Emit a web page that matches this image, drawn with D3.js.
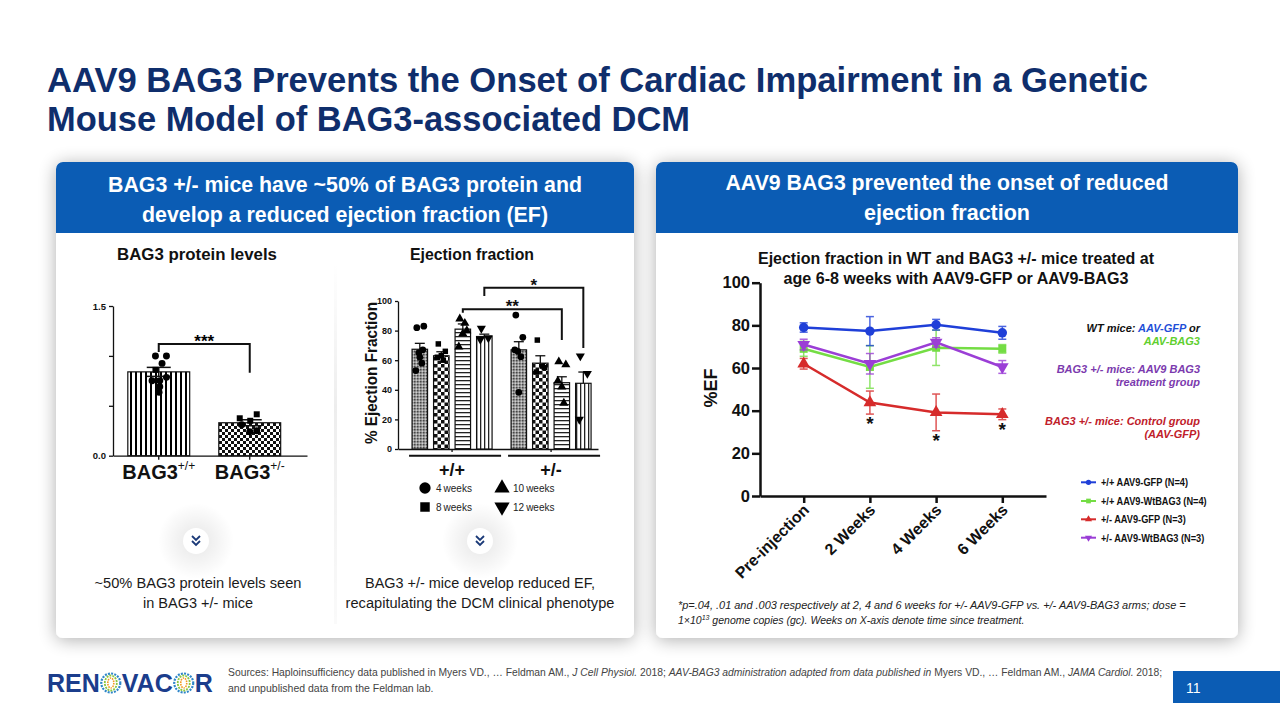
<!DOCTYPE html>
<html><head><meta charset="utf-8">
<script src="https://cdn.jsdelivr.net/npm/d3@7"></script>
<style>
html,body{margin:0;padding:0;background:#fff;}
svg{display:block;font-family:"Liberation Sans",Arial,Helvetica,sans-serif;}
</style></head><body>
<svg id="c" width="1280" height="720"></svg>
<script>
// ---------------- DATA ----------------
const proteinGroups = ["BAG3+/+", "BAG3+/-"];
const proteinMean = [0.84, 0.33];
const proteinSEM = [0.045, 0.03];
const proteinTicks = [0, 0.5, 1.0, 1.5];
const proteinPointsWT = [1.00, 1.00, 0.925, 0.86, 0.75, 0.75, 0.785, 0.69, 0.635];
const proteinShapesWT = ["c","c","c","s","c","c","c","c","c"];
const proteinPointsHet = [0.375, 0.415, 0.35, 0.31, 0.24, 0.25];
const proteinShapesHet = ["s","s","s","c","c","c"];
const proteinBracket = [1.12, 1.04, 0.83]; // bracket level, left end, right end
const proteinSig = "***";

const efGenotypes = ["+/+", "+/-"];
const efAges = ["4 weeks", "8 weeks", "10 weeks", "12 weeks"];
const efMeanWT = [67.4, 63, 81, 76];
const efMeanHet = [67, 58, 44.8, 44.4];
const efSEMWT = [4, 2.7, 3.5, 1.6];
const efSEMHet = [5.5, 5, 4, 7.6];
const efPointsWT = [[82, 83, 53, 58, 62, 65, 67], [71, 66, 62, 60, 63], [88, 80, 69, 85, 78], [81.5, 75, 74]];
const efPointsHet = [[90.5, 75.5, 67, 62.4, 38.3, 66], [73.6, 55, 52, 56], [59, 57, 46, 31, 42], [62.8, 51, 20]];
const efTicks = [0, 20, 40, 60, 80, 100];
const efBrackets = [
  {from: ["+/+", "10 weeks"], to: ["+/-", "10 weeks"], level: 94.4, left: 92, right: 73.6, label: "**"},
  {from: ["+/+", "12 weeks"], to: ["+/-", "12 weeks"], level: 109, left: 103.4, right: 68.2, label: "*"}
];

const timepoints = ["Pre-injection", "2 Weeks", "4 Weeks", "6 Weeks"];
const wtGFP = [79, 77.3, 80.3, 76.5];
const wtGFPErr = [2.2, 6.8, 2.5, 3];
const wtBAG3 = [69, 60.5, 69.5, 69];
const wtBAG3Err = [3.5, 10, 8.3, 2];
const hetGFP = [62, 43.8, 39.2, 38.3];
const hetGFPErr = [2.5, 5.4, 8.6, 2.5];
const hetBAG3 = [71, 62, 72, 60.5];
const hetBAG3Err = [2.5, 4.8, 2.2, 3];
const seriesNames = ["+/+ AAV9-GFP (N=4)", "+/+ AAV9-WtBAG3 (N=4)", "+/- AAV9-GFP (N=3)", "+/- AAV9-WtBAG3 (N=3)"];
const efTicksRight = [0, 20, 40, 60, 80, 100];
const sigTimepoints = ["2 Weeks", "4 Weeks", "6 Weeks"];

// ---------------- HELPERS ----------------
const svg = d3.select("#c");
const defs = svg.append("defs");
function fit(sel, w) {
  sel.each(function () {
    const l = this.getComputedTextLength();
    const fs = parseFloat(getComputedStyle(this).fontSize);
    if (l > 0) this.setAttribute("font-size", (fs * w / l).toFixed(2));
  });
}
function squeeze(sel, k) {
  sel.each(function () {
    const l = this.getComputedTextLength();
    this.setAttribute("textLength", (l * k).toFixed(1));
    this.setAttribute("lengthAdjust", "spacingAndGlyphs");
  });
}
function toWidth(sel, w) {
  sel.attr("textLength", w).attr("lengthAdjust", "spacingAndGlyphs");
}
const sym = {
  c: d3.symbol().type(d3.symbolCircle),
  s: d3.symbol().type(d3.symbolSquare),
  t: d3.symbol().type(d3.symbolTriangle),
  v: d3.symbol().type(d3.symbolTriangle)
};

// filters
const sh = defs.append("filter").attr("id", "shadow").attr("x", "-10%").attr("y", "-10%").attr("width", "120%").attr("height", "125%");
sh.append("feGaussianBlur").attr("in", "SourceAlpha").attr("stdDeviation", 9);
sh.append("feOffset").attr("dy", 2);
sh.append("feComponentTransfer").append("feFuncA").attr("type", "linear").attr("slope", 0.32);
const mg = sh.append("feMerge"); mg.append("feMergeNode"); mg.append("feMergeNode").attr("in", "SourceGraphic");

const glow = defs.append("radialGradient").attr("id", "glow");
glow.append("stop").attr("offset", "0%").attr("stop-color", "#000").attr("stop-opacity", 0.10);
glow.append("stop").attr("offset", "100%").attr("stop-color", "#000").attr("stop-opacity", 0);

const vshade = defs.append("linearGradient").attr("id", "vshade").attr("x1", 0).attr("x2", 0).attr("y1", 0).attr("y2", 1);
vshade.append("stop").attr("offset", "0%").attr("stop-color", "#000").attr("stop-opacity", 0);
vshade.append("stop").attr("offset", "40%").attr("stop-color", "#000").attr("stop-opacity", 0.07);
vshade.append("stop").attr("offset", "100%").attr("stop-color", "#000").attr("stop-opacity", 0.02);

// patterns
function pat(id, w, h, bg, draw) {
  const p = defs.append("pattern").attr("id", id).attr("patternUnits", "userSpaceOnUse").attr("width", w).attr("height", h);
  p.append("rect").attr("width", w).attr("height", h).attr("fill", bg);
  draw(p);
}
pat("vstripe", 5, 5, "#fff", p => p.append("rect").attr("width", 2).attr("height", 5).attr("fill", "#000"));
pat("vthin", 4, 4, "#fff", p => p.append("rect").attr("width", 1.3).attr("height", 4).attr("fill", "#222"));
pat("hstripe", 4, 4, "#fff", p => p.append("rect").attr("width", 4).attr("height", 1.3).attr("fill", "#222"));
pat("checker3", 6, 6, "#fff", p => {
  p.append("rect").attr("width", 3).attr("height", 3).attr("fill", "#111");
  p.append("rect").attr("x", 3).attr("y", 3).attr("width", 3).attr("height", 3).attr("fill", "#111");
});
pat("checker4", 7, 7, "#fff", p => {
  p.append("rect").attr("width", 3.5).attr("height", 3.5).attr("fill", "#111");
  p.append("rect").attr("x", 3.5).attr("y", 3.5).attr("width", 3.5).attr("height", 3.5).attr("fill", "#111");
});
pat("stipple", 3, 3, "#9a9a9a", p => {
  p.append("circle").attr("cx", 0.8).attr("cy", 0.8).attr("r", 0.8).attr("fill", "#333");
  p.append("circle").attr("cx", 2.3).attr("cy", 2.2).attr("r", 0.6).attr("fill", "#eee");
});

// ---------------- SLIDE ----------------
svg.append("rect").attr("width", 1280).attr("height", 720).attr("fill", "#fff");

const title = svg.append("g").attr("font-weight", "bold").attr("fill", "#0f2e6c").attr("font-size", 35);
title.append("text").attr("x", 47).attr("y", 92).text("AAV9 BAG3 Prevents the Onset of Cardiac Impairment in a Genetic").call(toWidth, 1101);
title.append("text").attr("x", 47).attr("y", 131).text("Mouse Model of BAG3-associated DCM").call(toWidth, 643);

const panels = [
  {x: 56, y: 162, w: 578, h: 476, hh: 71, l1: "BAG3 +/- mice have ~50% of BAG3 protein and", l2: "develop a reduced ejection fraction (EF)", w1: 474, w2: 406, b1: 192, b2: 222},
  {x: 656, y: 162, w: 582, h: 476, hh: 71, l1: "AAV9 BAG3 prevented the onset of reduced", l2: "ejection fraction", w1: 443, w2: 166, b1: 190, b2: 220}
];
panels.forEach(p => {
  svg.append("rect").attr("x", p.x).attr("y", p.y).attr("width", p.w).attr("height", p.h).attr("rx", 7).attr("fill", "#fff").attr("filter", "url(#shadow)");
  const r = 7;
  svg.append("path").attr("d", `M${p.x},${p.y + r} a${r},${r} 0 0 1 ${r},${-r} h${p.w - 2 * r} a${r},${r} 0 0 1 ${r},${r} v${p.hh - r} h${-p.w} z`).attr("fill", "#0b5cb4");
  const cx = p.x + p.w / 2;
  const t = svg.append("g").attr("fill", "#fff").attr("font-weight", "bold").attr("font-size", 21.5).attr("text-anchor", "middle");
  t.append("text").attr("x", cx).attr("y", p.b1).text(p.l1).call(toWidth, p.w1);
  t.append("text").attr("x", cx).attr("y", p.b2).text(p.l2).call(toWidth, p.w2);
});

// soft divider in left panel
svg.append("rect").attr("x", 334).attr("y", 262).attr("width", 3).attr("height", 362).attr("fill", "url(#vshade)");

// subtitles
svg.append("text").attr("x", 197).attr("y", 260).attr("text-anchor", "middle").attr("font-weight", "bold").attr("font-size", 15).attr("fill", "#111").text("BAG3 protein levels").call(fit, 160);
svg.append("text").attr("x", 472).attr("y", 260).attr("text-anchor", "middle").attr("font-weight", "bold").attr("font-size", 15).attr("fill", "#111").text("Ejection fraction").call(fit, 124);

// ---------------- CHART 1: BAG3 protein ----------------
const g1 = svg.append("g");
const y1 = d3.scaleLinear().domain([0, 1.5]).range([455.7, 306]);
const x1 = d3.scaleBand().domain(proteinGroups).range([113, 307]).paddingInner(0.32).paddingOuter(0.226).align(0.36);
const ax1 = g1.append("g").attr("transform", "translate(113,0)")
  .call(d3.axisLeft(y1).tickValues(proteinTicks).tickSize(4).tickSizeOuter(0)
    .tickFormat(d => (d === 0 || d === 1.5) ? d3.format(".1f")(d) : ""));
ax1.selectAll("path,line").attr("stroke", "#111").attr("stroke-width", 1.3);
ax1.selectAll("text").attr("font-size", 9.5).attr("font-weight", "bold").attr("fill", "#111").attr("font-family", "Liberation Sans");
const bx1 = g1.append("g").attr("transform", "translate(0,455.7)")
  .call(d3.axisBottom(x1).tickSize(4).tickSizeOuter(0).tickFormat(""));
bx1.selectAll("path,line").attr("stroke", "#111").attr("stroke-width", 1.3);
bx1.selectAll(".tick").attr("transform", d => `translate(${x1(d) + x1.bandwidth() / 2},0)`);

const pfill = ["url(#vstripe)", "url(#checker3)"];
g1.selectAll(".bar").data(proteinGroups).join("rect")
  .attr("x", d => x1(d)).attr("width", x1.bandwidth())
  .attr("y", (d, i) => y1(proteinMean[i])).attr("height", (d, i) => y1(0) - y1(proteinMean[i]))
  .attr("fill", (d, i) => pfill[i]).attr("stroke", "#111").attr("stroke-width", 1.2);
proteinGroups.forEach((d, i) => {
  const cx = x1(d) + x1.bandwidth() / 2;
  const e = g1.append("g").attr("stroke", "#111").attr("stroke-width", 1.5);
  e.append("line").attr("x1", cx).attr("x2", cx).attr("y1", y1(proteinMean[i] - proteinSEM[i])).attr("y2", y1(proteinMean[i] + proteinSEM[i]));
  e.append("line").attr("x1", cx - 12).attr("x2", cx + 12).attr("y1", y1(proteinMean[i] + proteinSEM[i])).attr("y2", y1(proteinMean[i] + proteinSEM[i]));
  e.append("line").attr("x1", cx - 12).attr("x2", cx + 12).attr("y1", y1(proteinMean[i] - proteinSEM[i])).attr("y2", y1(proteinMean[i] - proteinSEM[i]));
});
const jit1 = [-3.3, 7.7, 3.3, -3.3, -6.7, 1, 7.7, 1, 0.3];
const jit2 = [-10, 7, 0.5, -8, 0, 7];
[[proteinPointsWT, proteinShapesWT, jit1], [proteinPointsHet, proteinShapesHet, jit2]].forEach(([pts, shp, jit], gi) => {
  const cx = x1(proteinGroups[gi]) + x1.bandwidth() / 2;
  g1.append("g").selectAll("path").data(pts).join("path")
    .attr("d", (v, i) => sym[shp[i]].size(shp[i] === "s" ? 36 : 38)())
    .attr("transform", (v, i) => `translate(${cx + jit[i]},${y1(v)})`)
    .attr("fill", "#000");
});
{
  const xa = x1(proteinGroups[0]) + x1.bandwidth() / 2, xb = x1(proteinGroups[1]) + x1.bandwidth() / 2;
  g1.append("path").attr("d", `M${xa},${y1(proteinBracket[1])} V${y1(proteinBracket[0])} H${xb} V${y1(proteinBracket[2])}`)
    .attr("fill", "none").attr("stroke", "#111").attr("stroke-width", 2);
  g1.append("text").attr("x", (xa + xb) / 2).attr("y", y1(proteinBracket[0]) + 3).attr("text-anchor", "middle")
    .attr("font-weight", "bold").attr("font-size", 17).text(proteinSig);
}
const lab1 = g1.selectAll(".xl").data(proteinGroups).join("text")
  .attr("x", d => x1(d) + x1.bandwidth() / 2).attr("y", 479).attr("text-anchor", "middle")
  .attr("font-weight", "bold").attr("font-size", 20).attr("fill", "#111");
lab1.append("tspan").text("BAG3");
lab1.append("tspan").attr("dy", -9).attr("font-size", 12).attr("font-weight", "normal").text(d => d.slice(4));

// ---------------- CHART 2: Ejection fraction ----------------
const g2 = svg.append("g");
const y2 = d3.scaleLinear().domain([0, 100]).range([449, 301]);
const x2 = d3.scaleBand().domain(efGenotypes).range([398, 598]).paddingInner(0.192).paddingOuter(0.106).align(0.67);
const x2i = d3.scaleBand().domain(efAges).range([0, x2.bandwidth()]).paddingInner(0.28).paddingOuter(0);
const ax2 = g2.append("g").attr("transform", "translate(398,0)")
  .call(d3.axisLeft(y2).tickValues(efTicks).tickSize(3).tickSizeOuter(0));
ax2.selectAll("path,line").attr("stroke", "#111").attr("stroke-width", 1.3);
ax2.selectAll("text").attr("font-size", 9).attr("font-weight", "bold").attr("fill", "#111").attr("font-family", "Liberation Sans");
const bx2 = g2.append("g").attr("transform", "translate(0,449)")
  .call(d3.axisBottom(x2).tickSize(3).tickSizeOuter(0).tickFormat(""));
bx2.selectAll("path,line").attr("stroke", "#111").attr("stroke-width", 1.3);
g2.append("text").attr("transform", "translate(377,373) rotate(-90)").attr("text-anchor", "middle")
  .attr("font-weight", "bold").attr("font-size", 16).attr("fill", "#111").text("% Ejection Fraction").call(toWidth, 142);
efGenotypes.forEach(gk => {
  g2.append("line").attr("x1", x2(gk) - 3).attr("x2", x2(gk) + x2.bandwidth() + 9).attr("y1", 455.7).attr("y2", 455.7)
    .attr("stroke", "#111").attr("stroke-width", 2);
  g2.append("text").attr("x", x2(gk) + x2.bandwidth() / 2).attr("y", 476).attr("text-anchor", "middle")
    .attr("font-weight", "bold").attr("font-size", 18).attr("fill", "#111").text(gk);
});
const efFills = ["url(#stipple)", "url(#checker4)", "url(#hstripe)", "url(#vthin)"];
const efSymbols = ["c", "s", "t", "v"];
const efMeans = [efMeanWT, efMeanHet], efSEMs = [efSEMWT, efSEMHet], efPts = [efPointsWT, efPointsHet];
const jitEF = [-3, 4, -4, 2, 0, -1, 3];
efGenotypes.forEach((gk, gi) => {
  efAges.forEach((ak, ai) => {
    const x0 = x2(gk) + x2i(ak), bw = x2i.bandwidth(), cx = x0 + bw / 2;
    const mv = efMeans[gi][ai], se = efSEMs[gi][ai];
    g2.append("rect").attr("x", x0).attr("width", bw).attr("y", y2(mv)).attr("height", y2(0) - y2(mv))
      .attr("fill", efFills[ai]).attr("stroke", "#111").attr("stroke-width", 1.2);
    const e = g2.append("g").attr("stroke", "#111").attr("stroke-width", 1.3);
    e.append("line").attr("x1", cx).attr("x2", cx).attr("y1", y2(mv)).attr("y2", y2(mv + se));
    e.append("line").attr("x1", cx - 5).attr("x2", cx + 5).attr("y1", y2(mv + se)).attr("y2", y2(mv + se));
    g2.append("g").selectAll("path").data(efPts[gi][ai]).join("path")
      .attr("d", sym[efSymbols[ai]].size(efSymbols[ai] === "s" ? 30 : 36)())
      .attr("transform", (v, i) => `translate(${cx + jitEF[i % jitEF.length]},${y2(v)})${efSymbols[ai] === "v" ? " rotate(180)" : ""}`)
      .attr("fill", "#000");
  });
});
efBrackets.forEach(b => {
  const xa = x2(b.from[0]) + x2i(b.from[1]) + x2i.bandwidth() / 2;
  const xb = x2(b.to[0]) + x2i(b.to[1]) + x2i.bandwidth() / 2;
  g2.append("path").attr("d", `M${xa},${y2(b.left)} V${y2(b.level)} H${xb} V${y2(b.right)}`)
    .attr("fill", "none").attr("stroke", "#111").attr("stroke-width", 2);
  g2.append("text").attr("x", (xa + xb) / 2).attr("y", y2(b.level) + 3).attr("text-anchor", "middle")
    .attr("font-weight", "bold").attr("font-size", 17).attr("fill", "#111").text(b.label);
});
const lg2 = g2.append("g");
efAges.forEach((ak, i) => {
  const lx = [425, 425, 502, 502][i], ly = [488, 507, 488, 507][i];
  lg2.append("path").attr("d", sym[efSymbols[i]].size(efSymbols[i] === "s" ? 90 : 100)())
    .attr("transform", `translate(${lx},${ly})${efSymbols[i] === "v" ? " rotate(180)" : ""}`).attr("fill", "#000");
  lg2.append("text").attr("x", lx + 11).attr("y", ly + 3.5).attr("font-size", 10).attr("fill", "#222").text(ak.replace(" ", "\u2009"));
});

// chevrons
[196, 480].forEach(cx => {
  svg.append("circle").attr("cx", cx).attr("cy", 541).attr("r", 38).attr("fill", "url(#glow)");
  svg.append("circle").attr("cx", cx).attr("cy", 541).attr("r", 13).attr("fill", "#fff");
  svg.append("path").attr("d", `M${cx - 4},${536} L${cx},${540} L${cx + 4},${536} M${cx - 4},${541} L${cx},${545} L${cx + 4},${541}`)
    .attr("fill", "none").attr("stroke", "#1b3a78").attr("stroke-width", 1.8);
});
const cap = svg.append("g").attr("font-size", 15).attr("fill", "#1a1a1a").attr("text-anchor", "middle");
cap.append("text").attr("x", 198).attr("y", 588).text("~50% BAG3 protein levels seen").call(fit, 207);
cap.append("text").attr("x", 198).attr("y", 608).text("in BAG3 +/- mice").call(fit, 110);
cap.append("text").attr("x", 480).attr("y", 588).text("BAG3 +/- mice develop reduced EF,").call(fit, 230);
cap.append("text").attr("x", 480).attr("y", 608).text("recapitulating the DCM clinical phenotype").call(fit, 269);

// ---------------- CHART 3: Ejection fraction over time ----------------
const g3 = svg.append("g");
g3.append("text").attr("x", 956).attr("y", 264).attr("text-anchor", "middle").attr("font-weight", "bold").attr("font-size", 15).attr("fill", "#111")
  .text("Ejection fraction in WT and BAG3 +/- mice treated at").call(fit, 396);
g3.append("text").attr("x", 956).attr("y", 284).attr("text-anchor", "middle").attr("font-weight", "bold").attr("font-size", 15).attr("fill", "#111")
  .text("age 6-8 weeks with AAV9-GFP or AAV9-BAG3").call(fit, 345);
const y3 = d3.scaleLinear().domain([0, 100]).range([496, 282.7]);
const x3 = d3.scalePoint().domain(timepoints).range([760, 1046]).padding(0.66);
const ax3 = g3.append("g").attr("transform", "translate(760,0)")
  .call(d3.axisLeft(y3).tickValues(efTicksRight).tickSize(8).tickSizeOuter(0).tickPadding(2));
ax3.selectAll("path,line").attr("stroke", "#111").attr("stroke-width", 2.5);
ax3.selectAll("text").attr("font-size", 16.5).attr("font-weight", "bold").attr("fill", "#111").attr("font-family", "Liberation Sans");
const bx3 = g3.append("g").attr("transform", "translate(0,496)")
  .call(d3.axisBottom(x3).tickSize(7).tickSizeOuter(0));
bx3.selectAll("path,line").attr("stroke", "#111").attr("stroke-width", 2.5);
bx3.selectAll("text").attr("font-size", 16).attr("font-weight", "bold").attr("fill", "#111").attr("font-family", "Liberation Sans")
  .attr("text-anchor", "end").attr("dy", 0).attr("y", 0).attr("transform", "translate(6,15) rotate(-45)");
g3.append("text").attr("transform", "translate(717,388) rotate(-90)").attr("text-anchor", "middle")
  .attr("font-weight", "bold").attr("font-size", 18).attr("fill", "#111").text("%EF");

const series = [
  {name: seriesNames[1], v: wtBAG3, e: wtBAG3Err, color: "#74dd44", s: "s"},
  {name: seriesNames[0], v: wtGFP, e: wtGFPErr, color: "#1f3fd8", s: "c"},
  {name: seriesNames[3], v: hetBAG3, e: hetBAG3Err, color: "#9b3ed6", s: "v"},
  {name: seriesNames[2], v: hetGFP, e: hetGFPErr, color: "#d62b2b", s: "t"}
];
const line3 = d3.line().x(d => x3(d.t)).y(d => y3(d.v));
series.forEach(s => {
  const pts = timepoints.map((t, i) => ({t, v: s.v[i], e: s.e[i]}));
  const eg = g3.append("g").attr("stroke", s.color).attr("stroke-width", 1.5).attr("opacity", 0.8);
  pts.forEach(p => {
    const cx = x3(p.t);
    eg.append("line").attr("x1", cx).attr("x2", cx).attr("y1", y3(p.v - p.e)).attr("y2", y3(p.v + p.e));
    eg.append("line").attr("x1", cx - 4).attr("x2", cx + 4).attr("y1", y3(p.v - p.e)).attr("y2", y3(p.v - p.e));
    eg.append("line").attr("x1", cx - 4).attr("x2", cx + 4).attr("y1", y3(p.v + p.e)).attr("y2", y3(p.v + p.e));
  });
  g3.append("path").datum(pts).attr("d", line3).attr("fill", "none").attr("stroke", s.color).attr("stroke-width", 2.5);
  g3.append("g").selectAll("path").data(pts).join("path")
    .attr("d", sym[s.s].size(s.s === "s" ? 64 : 70)())
    .attr("transform", p => `translate(${x3(p.t)},${y3(p.v)})${s.s === "v" ? " rotate(180)" : ""}`)
    .attr("fill", s.color);
});
sigTimepoints.forEach(t => {
  const i = timepoints.indexOf(t);
  g3.append("text").attr("x", x3(t)).attr("y", y3(hetGFP[i] - hetGFPErr[i] - 3.3) + 9).attr("text-anchor", "middle")
    .attr("font-weight", "bold").attr("font-size", 19).attr("fill", "#111").text("*");
});
const ann = g3.append("g").attr("font-weight", "bold").attr("font-style", "italic").attr("font-size", 11).attr("text-anchor", "end");
const a1 = ann.append("text").attr("x", 1200).attr("y", 332).attr("fill", "#111");
a1.append("tspan").text("WT mice: ");
a1.append("tspan").attr("fill", "#1f4fd8").text("AAV-GFP");
a1.append("tspan").text(" or");
ann.append("text").attr("x", 1200).attr("y", 345).attr("fill", "#5fcf2f").text("AAV-BAG3");
ann.append("text").attr("x", 1200).attr("y", 373).attr("fill", "#7b3aae").text("BAG3 +/- mice: AAV9 BAG3");
ann.append("text").attr("x", 1200).attr("y", 386).attr("fill", "#7b3aae").text("treatment group");
ann.append("text").attr("x", 1200).attr("y", 425).attr("fill", "#c0202a").text("BAG3 +/- mice: Control group");
ann.append("text").attr("x", 1200).attr("y", 438).attr("fill", "#c0202a").text("(AAV-GFP)");
const legOrder = [series[1], series[0], series[3], series[2]];
const lgy = [482.3, 501, 519.3, 537.7];
legOrder.forEach((s, i) => {
  const gg = g3.append("g").attr("transform", `translate(1081,${lgy[i]})`);
  gg.append("line").attr("x1", 0).attr("x2", 15).attr("stroke", s.color).attr("stroke-width", 2);
  gg.append("path").attr("d", sym[s.s].size(22)()).attr("transform", `translate(7.5,0)${s.s === "v" ? " rotate(180)" : ""}`).attr("fill", s.color);
  gg.append("text").attr("x", 20).attr("y", 4).attr("font-weight", "bold").attr("font-size", 11.5).attr("fill", "#111").text(s.name).call(squeeze, 0.8);
});
const fn = svg.append("g").attr("font-style", "italic").attr("font-size", 10.5).attr("fill", "#222").style("white-space", "pre");
fn.append("text").attr("x", 678).attr("y", 609).text("*p=.04, .01 and .003 respectively at 2, 4 and 6 weeks for +/- AAV9-GFP vs. +/- AAV9-BAG3 arms; dose =").call(fit, 508);
const fn2 = fn.append("text").attr("x", 678).attr("y", 624);
fn2.append("tspan").text("1\u00d710");
fn2.append("tspan").attr("dy", -4).attr("font-size", 7).text("13");
fn2.append("tspan").attr("dy", 4).text(" genome copies (gc).  Weeks on X-axis denote time since treatment.");

// ---------------- FOOTER ----------------
const src = svg.append("g").attr("font-size", 10.5).attr("fill", "#444");
const s1 = src.append("text").attr("x", 228).attr("y", 676);
[["Sources: Haploinsufficiency data published in Myers VD., \u2026 Feldman AM., ", 0], ["J Cell Physiol.", 1], [" 2018; ", 0],
 ["AAV-BAG3 administration adapted from data published in", 1], [" Myers VD., \u2026 Feldman AM., ", 0], ["JAMA Cardiol.", 1], [" 2018;", 0]]
  .forEach(([t, it]) => s1.append("tspan").attr("font-style", it ? "italic" : "normal").text(t));
s1.call(fit, 934);
src.append("text").attr("x", 228).attr("y", 692).text("and unpublished data from the Feldman lab.");

const logo = svg.append("g").attr("font-weight", "bold").attr("font-size", 25).attr("fill", "#1b3d8c");
let lx = 47;
["REN", "O", "VAC", "O", "R"].forEach(p => {
  if (p === "O") {
    const cx = lx + 10, cy = 683;
    const gl = logo.append("g");
    gl.append("circle").attr("cx", cx).attr("cy", cy).attr("r", 9.5).attr("fill", "none").attr("stroke", "#2e86c9").attr("stroke-width", 2.2).attr("stroke-dasharray", "2 1.2");
    gl.append("ellipse").attr("cx", cx).attr("cy", cy).attr("rx", 6).attr("ry", 7.5).attr("fill", "none").attr("stroke", "#8cc63f").attr("stroke-width", 1.8).attr("stroke-dasharray", "2 1");
    gl.append("ellipse").attr("cx", cx).attr("cy", cy).attr("rx", 3).attr("ry", 5).attr("fill", "none").attr("stroke", "#f39a1e").attr("stroke-width", 1.6).attr("stroke-dasharray", "1.5 1");
    lx += 21;
  } else {
    const t = logo.append("text").attr("x", lx).attr("y", 692).text(p);
    lx += t.node().getComputedTextLength() + 1;
  }
});

svg.append("rect").attr("x", 1173).attr("y", 671).attr("width", 107).attr("height", 32).attr("fill", "#0b5cb4");
svg.append("text").attr("x", 1186).attr("y", 693).attr("font-size", 14).attr("fill", "#fff").text("11");
</script>
</body></html>
